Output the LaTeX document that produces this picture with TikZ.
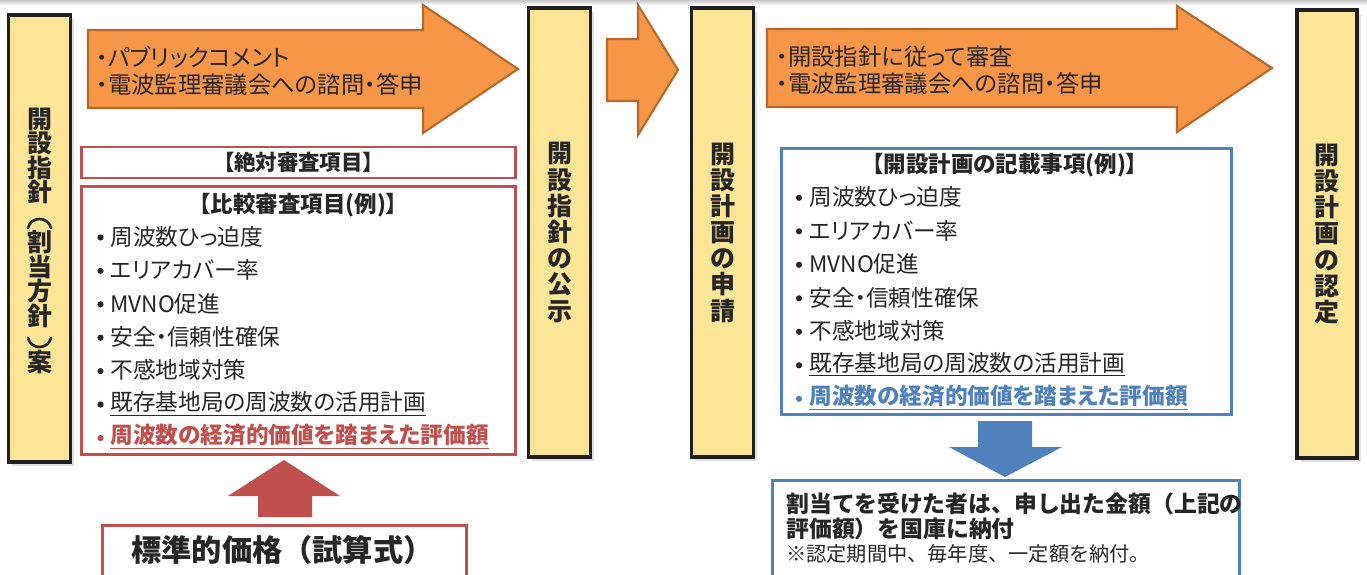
\documentclass[tikz,border=0pt]{standalone}
\usepackage{fontspec}
\setmainfont{Noto Sans CJK JP}
\newfontfamily\propfont{Noto Sans CJK JP}[RawFeature=+palt]
\usetikzlibrary{shadows}

\definecolor{stageyellow}{HTML}{FCE597}
\definecolor{flowfill}{HTML}{F79646}
\definecolor{flowedge}{HTML}{B7692C}
\definecolor{judgered}{HTML}{C0504D}
\definecolor{planblue}{HTML}{4F81BD}
\definecolor{inkgray}{HTML}{262626}

\tikzset{
  stagebox/.style={draw=black!88, line width=2.2pt, fill=stageyellow, minimum width=1.24cm,
    inner sep=0pt, drop shadow={shadow xshift=2.2pt, shadow yshift=-2.2pt, fill=black!12, opacity=1}},
  stagelabel/.style={align=center, text=inkgray, inner sep=0pt,
    font=\bfseries\fontsize{14.2}{14.9}\selectfont},
  parenarc/.style={draw=inkgray, line width=1.5pt, line cap=round},
  redbox/.style={draw=judgered, line width=1.7pt, fill=white, minimum width=8.7cm, inner sep=0pt},
  bluebox/.style={draw=planblue, line width=1.7pt, fill=white, inner sep=0pt},
  boxtitle/.style={text=inkgray, inner sep=0pt, font=\propfont\bfseries\fontsize{12.8}{14}\selectfont},
  item/.style={anchor=west, text=inkgray, inner sep=0pt, font=\propfont\fontsize{12.9}{14}\selectfont},
  dot/.style={fill=inkgray},
  flowarrow/.style={fill=flowfill, draw=flowedge, line width=1.2pt, line join=miter},
  flowtext/.style={anchor=west, align=left, text=inkgray, inner sep=0pt,
    font=\propfont\fontsize{13.3}{15.3}\selectfont},
  notetext/.style={anchor=west, text=inkgray, inner sep=0pt}
}

\begin{document}
\begin{tikzpicture}[x=0.02cm, y=-0.02cm]
  \useasboundingbox (0,0) rectangle (1367,575);
  \shade[top color=black!22, bottom color=white] (0,0) rectangle (1367,5);

  % the four stages
  \node[stagebox, minimum height=8.94cm] (draft) at (39.5,238.5) {};
  \node[stagelabel, font=\bfseries\fontsize{14.2}{14}\selectfont] (draftlbl) at (39.5,156) {開\\設\\指\\針};
  \node[stagelabel, font=\bfseries\fontsize{14.2}{14}\selectfont] (draftlbl2) at (39.5,279) {割\\当\\方\\針};
  \node[stagelabel] (draftlbl3) at (39.5,362) {案};
  \draw[parenarc] (28,228) .. controls (31,216) and (48,216) .. (51,228);
  \draw[parenarc] (28,338) .. controls (31,350) and (48,350) .. (51,338);
  \node[stagebox, minimum height=8.98cm] (notice) at (559.5,232.5) {};
  \node[stagelabel] (noticelbl) at (notice.center) {開\\設\\指\\針\\の\\公\\示};
  \node[stagebox, minimum height=8.98cm] (apply) at (722.5,232.5) {};
  \node[stagelabel] (applylbl) at (apply.center) {開\\設\\計\\画\\の\\申\\請};
  \node[stagebox, minimum height=8.96cm, minimum width=1.2cm] (approve) at (1327,234) {};
  \node[stagelabel] (approvelbl) at (approve.center) {開\\設\\計\\画\\の\\認\\定};

  % big orange arrows between the stages
  \draw[flowarrow] (88,30) -- (423,30) -- (423,5) -- (518,69) -- (423,133) -- (423,108) -- (88,108) -- cycle;
  \node[flowtext] (consult) at (96,71) {・パブリックコメント\\・電波監理審議会への諮問・答申};
  \draw[flowarrow] (607,39) -- (638,39) -- (638,5) -- (678,70) -- (638,135) -- (638,101) -- (607,101) -- cycle;
  \draw[flowarrow] (767,29) -- (1177,29) -- (1177,6) -- (1272,68) -- (1177,132) -- (1177,107) -- (767,107) -- cycle;
  \node[flowtext] (review) at (776,70.5) {・開設指針に従って審査\\・電波監理審議会への諮問・答申};

  % review items of the guideline
  \node[redbox, minimum height=0.62cm] (absolute) at (298.5,162.5) {};
  \node[boxtitle, font=\propfont\bfseries\fontsize{12.2}{14}\selectfont] (abstitle) at (absolute.center) {【絶対審査項目】};
  \node[redbox, minimum height=5.38cm] (compare) at (298.5,320.5) {};
  \node[boxtitle] (cmptitle) at (298.5,205) {【比較審査項目(例)】};
  \foreach \txt [count=\i] in {周波数ひっ迫度, エリアカバー率, MVNO促進, 安全・信頼性確保, 不感地域対策}
  {
    \fill[dot] (100.5,{237.5+33.4*(\i-1)}) circle (3.1);
    \node[item] (cmpitem\i) at (110,{236.7+33.4*(\i-1)}) {\txt};
  }
  \fill[dot] (100.5,404.5) circle (3.1);
  \node[item] (cmpitem6) at (110,403.7) {\underline{既存基地局の周波数の活用計画}};
  \fill[judgered] (100.5,438) circle (3.1);
  \node[item, text=judgered] (cmpitem7) at (110,437) {\underline{\bfseries 周波数の経済的価値を踏まえた評価額}};

  % standard price feeds the valuation
  \fill[judgered] (258,517) -- (258,496) -- (228,496) -- (284,460) -- (340,496) -- (312,496) -- (312,517) -- cycle;
  \node[draw=judgered, line width=1.7pt, fill=white, minimum width=7.3cm, minimum height=1.5cm] (price) at (284.5,562.5) {};
  \node[notetext, font=\bfseries\fontsize{17.2}{18}\selectfont] (pricelbl) at (131,550) {標準的価格（試算式）};

  % items written in the plan
  \node[bluebox, minimum width=9.02cm, minimum height=5.34cm] (plan) at (1006.5,281.5) {};
  \node[boxtitle] (plantitle) at (1005,165) {【開設計画の記載事項(例)】};
  \foreach \txt [count=\i] in {周波数ひっ迫度, エリアカバー率, MVNO促進, 安全・信頼性確保, 不感地域対策}
  {
    \fill[dot] (799,{197.8+33.5*(\i-1)}) circle (3.1);
    \node[item] (planitem\i) at (809,{197+33.5*(\i-1)}) {\txt};
  }
  \fill[dot] (799,365.3) circle (3.1);
  \node[item] (planitem6) at (809,364.5) {\underline{既存基地局の周波数の活用計画}};
  \fill[planblue] (799,398.8) circle (3.1);
  \node[item, text=planblue] (planitem7) at (809,398) {\underline{\bfseries 周波数の経済的価値を踏まえた評価額}};

  % payment
  \fill[planblue] (978,421) -- (1032,421) -- (1032,447) -- (1062,447) -- (1005,477) -- (949,447) -- (978,447) -- cycle;
  \node[bluebox, minimum width=9.36cm, minimum height=2.4cm] (payment) at (1006,540) {};
  \node[notetext, font=\bfseries\fontsize{13}{14.2}\selectfont, align=left] (paytext) at (786,516.5)
    {割当てを受けた者は、申し出た金額（上記の\\評価額）を国庫に納付};
  \node[notetext, font=\fontsize{11.5}{13}\selectfont] (paynote) at (786,554) {※認定期間中、毎年度、一定額を納付。};
\end{tikzpicture}
\end{document}
